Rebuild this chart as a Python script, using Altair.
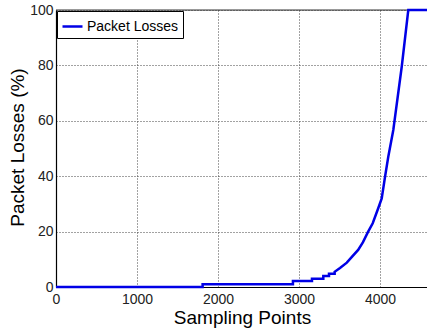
import altair as alt
import pandas as pd

# Data
sampling_points = [0, 1810, 1810, 2925, 2925, 3160, 3160, 3300, 3300, 3370, 3370,
                   3440, 3440, 3506, 3590, 3650, 3730, 3790, 3852, 3910, 3979,
                   4021, 4062, 4102, 4164, 4268, 4349, 4580]
packet_losses = [0, 0, 1, 1, 2.2, 2.2, 3, 3, 4, 4, 4.8,
                 4.8, 5.5, 6.9, 8.8, 10.8, 13.4, 16.2, 19.9, 23.0, 28.5,
                 32.0, 39.8, 47.0, 56.7, 79.5, 100, 100]
series_name = "Packet Losses"
x_ticks = [0, 1000, 2000, 3000, 4000]
y_ticks = [0, 20, 40, 60, 80, 100]

df = pd.DataFrame({
    "x": sampling_points,
    "y": packet_losses,
    "i": list(range(len(sampling_points))),
    "series": [series_name] * len(sampling_points),
})

FONT = "Liberation Sans"

x_scale = alt.Scale(domain=[0, 4580], nice=False, zero=False)
y_scale = alt.Scale(domain=[0, 100], nice=False)

x_axis = alt.Axis(values=x_ticks, format="d", title="Sampling Points", grid=True,
                  gridDash=[1, 2], gridColor="#444", gridWidth=1,
                  domainColor="#000", domainWidth=1.2, ticks=False,
                  labelFont=FONT, labelFontSize=14, labelColor="#222",
                  labelPadding=5, labelFlush=False,
                  titleFont=FONT, titleFontSize=19, titleFontWeight="normal",
                  titleColor="#000", titleX=186, titleY=36,
                  titleBaseline="alphabetic", titleAlign="center")
y_axis = alt.Axis(values=y_ticks, format="d", title="Packet Losses (%)", grid=True,
                  gridDash=[1, 2], gridColor="#444", gridWidth=1,
                  domainColor="#000", domainWidth=1.2, ticks=False,
                  labelFont=FONT, labelFontSize=14, labelColor="#222",
                  labelPadding=3, labelFlush=False,
                  titleFont=FONT, titleFontSize=19, titleFontWeight="normal",
                  titleColor="#000", titleX=-33, titleY=137, titleAngle=-90,
                  titleBaseline="alphabetic", titleAlign="center")

line = alt.Chart(df).mark_line(strokeWidth=2.5).encode(
    x=alt.X("x:Q", scale=x_scale, axis=x_axis),
    y=alt.Y("y:Q", scale=y_scale, axis=y_axis),
    order="i:Q",
    color=alt.Color("series:N", scale=alt.Scale(domain=[series_name], range=["#0000e6"]),
                    legend=alt.Legend(title=None, orient="top-left", offset=1,
                                      symbolType="stroke", symbolSize=400,
                                      symbolStrokeWidth=2.5, labelFont=FONT,
                                      labelFontSize=14, labelColor="#000",
                                      labelOffset=3, padding=4,
                                      strokeColor="#000", fillColor="#fff")),
)

top_border = alt.Chart(pd.DataFrame({"y": [100]})).mark_rule(
    color="#333", strokeWidth=1).encode(y=alt.Y("y:Q", scale=y_scale))

chart = alt.layer(top_border, line).properties(
    width=371, height=277,
    autosize=alt.AutoSizeParams(type="none"),
    padding={"left": 56, "top": 10, "right": 0, "bottom": 42},
).configure_view(stroke=None).configure(background="#fff")

chart.save("out.html", embed_options={"renderer": "svg", "actions": False})
